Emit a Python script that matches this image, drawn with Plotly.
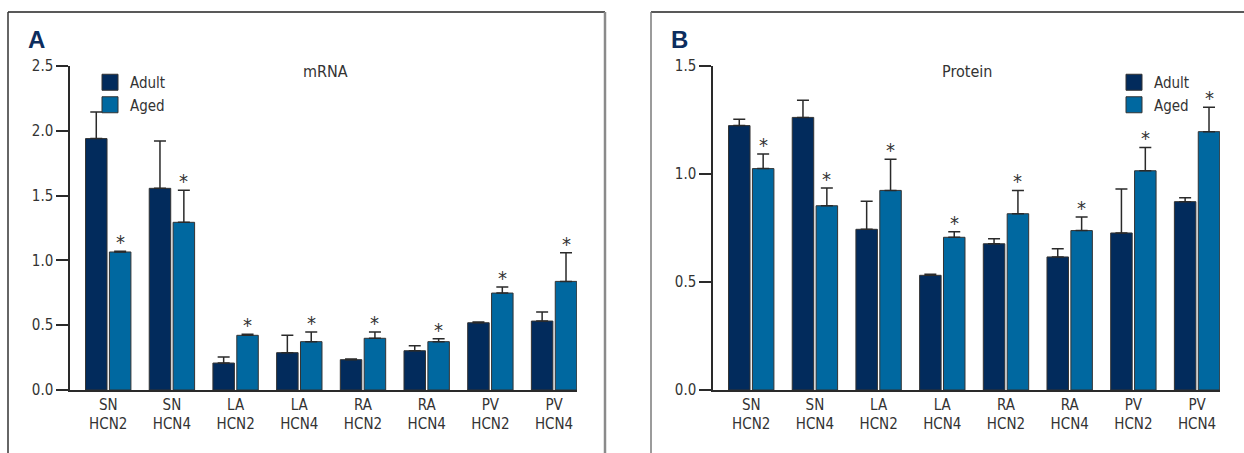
import plotly.graph_objects as go

W, H = 1244, 453

regions = ["SN", "SN", "LA", "LA", "RA", "RA", "PV", "PV"]
genes = ["HCN2", "HCN4", "HCN2", "HCN4", "HCN2", "HCN4", "HCN2", "HCN4"]
categories = [f"{r}<br>{g}" for r, g in zip(regions, genes)]

mrna_adult = [1.94, 1.556, 0.208, 0.288, 0.234, 0.303, 0.519, 0.532]
mrna_adult_err = [0.205, 0.365, 0.047, 0.134, 0.005, 0.039, 0.006, 0.070]
mrna_aged = [1.065, 1.294, 0.422, 0.373, 0.399, 0.373, 0.748, 0.838]
mrna_aged_err = [0.005, 0.247, 0.008, 0.075, 0.049, 0.023, 0.047, 0.221]

prot_adult = [1.224, 1.262, 0.744, 0.531, 0.677, 0.616, 0.727, 0.872]
prot_adult_err = [0.030, 0.079, 0.130, 0.005, 0.023, 0.038, 0.204, 0.018]
prot_aged = [1.025, 0.853, 0.924, 0.707, 0.816, 0.738, 1.015, 1.196]
prot_aged_err = [0.068, 0.082, 0.144, 0.026, 0.108, 0.063, 0.108, 0.113]

series_names = ["Adult", "Aged"]
colors = ["#022b5c", "#0068a0"]
FONT = "Liberation Sans Narrow, DejaVu Sans Condensed, Roboto, sans-serif"
TXT = "#333333"
FS = 15

BARGAP = 0.25
GROUPGAP = 0.1


def px(x):
    return x / W


def py(y):
    return 1 - y / H


fig = go.Figure()

panels = [
    ("x", "y", "legend", [mrna_adult, mrna_aged], [mrna_adult_err, mrna_aged_err]),
    ("x2", "y2", "legend2", [prot_adult, prot_aged], [prot_adult_err, prot_aged_err]),
]

for xa, ya, lg, vals, errs in panels:
    for name, col, v, e in zip(series_names, colors, vals, errs):
        fig.add_trace(go.Bar(
            x=categories, y=v, name=name, xaxis=xa, yaxis=ya, showlegend=False,
            marker=dict(color=col, line=dict(color="#333333", width=1)),
            error_y=dict(type="data", array=e, arrayminus=[0] * len(e),
                         symmetric=False, color="#2a2a2a", thickness=1.5, width=6),
        ))
    # legend keys (square swatches)
    for name, col in zip(series_names, colors):
        fig.add_trace(go.Scatter(
            x=[None], y=[None], name=name, xaxis=xa, yaxis=ya, legend=lg, mode="markers",
            marker=dict(symbol="square", size=16, color=col, line=dict(color="#333333", width=1)),
        ))
    # significance asterisks above the Aged bars
    slot = (1 - BARGAP) / 2
    for i, (v, e) in enumerate(zip(vals[1], errs[1])):
        fig.add_annotation(
            x=i + slot / 2, y=v + e, xref=xa, yref=ya, text="*", showarrow=False,
            yanchor="bottom", yshift=-5, font=dict(family=FONT, size=20, color=TXT),
        )

axis_common = dict(
    showline=True, linecolor="#2a2a2a", linewidth=1.5, showgrid=False, zeroline=False,
    automargin=False, tickfont=dict(family=FONT, size=FS, color=TXT),
)
ydom = [py(390), py(66)]
legend_common = dict(xanchor="left", yanchor="top", font=dict(family=FONT, size=FS, color=TXT),
                     bgcolor="rgba(0,0,0,0)", tracegroupgap=0, itemsizing="trace")
fig.update_layout(
    width=W, height=H, margin=dict(l=0, r=0, t=0, b=0, autoexpand=False),
    paper_bgcolor="white", plot_bgcolor="white",
    barmode="group", bargap=BARGAP, bargroupgap=GROUPGAP,
    xaxis=dict(domain=[px(70), px(577)], range=[-0.6, 7.36], ticks="", **axis_common),
    xaxis2=dict(domain=[px(713), px(1220)], range=[-0.6, 7.36], ticks="", anchor="y2", **axis_common),
    yaxis=dict(domain=ydom, range=[0, 2.5], dtick=0.5, tickformat=".1f", ticks="outside",
               ticklen=12, tickwidth=1.5, tickcolor="#2a2a2a", anchor="x", **axis_common),
    yaxis2=dict(domain=ydom, range=[0, 1.5], dtick=0.5, tickformat=".1f", ticks="outside",
                ticklen=12, tickwidth=1.5, tickcolor="#2a2a2a", anchor="x2", **axis_common),
    legend=dict(x=px(90), y=py(66), **legend_common),
    legend2=dict(x=px(1114), y=py(66), **legend_common),
)

# panel titles and letters
for text, x, y in [("mRNA", 325, 71), ("Protein", 967, 71)]:
    fig.add_annotation(x=px(x), y=py(y), xref="paper", yref="paper", text=text,
                       showarrow=False, xanchor="center", yanchor="middle",
                       font=dict(family=FONT, size=FS + 1, color=TXT))
for text, x, y in [("A", 26, 39), ("B", 669, 39)]:
    fig.add_annotation(x=px(x), y=py(y), xref="paper", yref="paper", text=f"<b>{text}</b>",
                       showarrow=False, xanchor="left", yanchor="middle",
                       font=dict(family="Liberation Sans, Arial, sans-serif", size=24, color="#0c2d5e"))

# panel frames
frames = [
    (8, 12, 605, 12, "#222222", 1.5),
    (8, 12, 8, 460, "#333333", 1.5),
    (605, 12, 605, 460, "#8a8a8a", 2.5),
    (651, 12, 1250, 12, "#222222", 1.5),
    (651, 12, 651, 460, "#7a7a7a", 1.5),
]
for x0, y0, x1, y1, c, w in frames:
    fig.add_shape(type="line", xref="paper", yref="paper", x0=px(x0), y0=py(y0),
                  x1=px(x1), y1=py(y1), line=dict(color=c, width=w))

fig.write_html("out.html", config={"displayModeBar": False},
               post_script="document.body.style.margin='0px';")
